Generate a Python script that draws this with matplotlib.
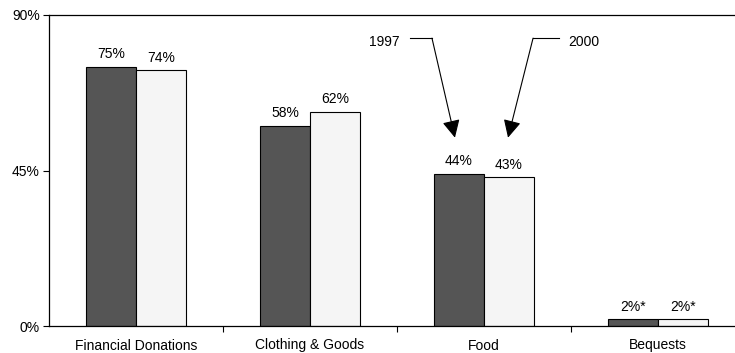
import matplotlib.pyplot as plt
import numpy as np

plt.rcParams['font.family'] = ['Liberation Sans', 'DejaVu Sans']

categories = ['Financial Donations', 'Clothing & Goods', 'Food', 'Bequests']
vals_1997 = [75, 58, 44, 2]
vals_2000 = [74, 62, 43, 2]
labels_1997 = ['75%', '58%', '44%', '2%*']
labels_2000 = ['74%', '62%', '43%', '2%*']

FS = 10

fig = plt.figure(figsize=(7.35, 3.53), dpi=100)
# right side of the plot box runs off the canvas, as in the original
ax = fig.add_axes([49 / 735, 27 / 353, 696 / 735, 311 / 353])

x = np.arange(len(categories))
w = 0.287

b1 = ax.bar(x - w / 2, vals_1997, w, color='#555555', edgecolor='black', linewidth=0.8)
b2 = ax.bar(x + w / 2, vals_2000, w, color='#f5f5f5', edgecolor='black', linewidth=0.8)

for rect, lab in zip(b1, labels_1997):
    ax.annotate(lab, (rect.get_x() + rect.get_width() / 2, rect.get_height()),
                xytext=(0, 4), textcoords='offset points', ha='center', va='bottom', fontsize=FS)
for rect, lab in zip(b2, labels_2000):
    ax.annotate(lab, (rect.get_x() + rect.get_width() / 2, rect.get_height()),
                xytext=(0, 4), textcoords='offset points', ha='center', va='bottom', fontsize=FS)

ax.set_xlim(-0.5, 3.5)
ax.set_ylim(0, 90)
ax.set_yticks([0, 45, 90])
ax.set_yticklabels(['0%', '45%', '90%'], fontsize=FS)

# boundaries get tick marks, category names sit in between
ax.set_xticks([0.5, 1.5, 2.5])
ax.set_xticklabels([])
ax.set_xticks(x, minor=True)
ax.set_xticklabels(categories, minor=True, fontsize=FS)
ax.tick_params(axis='x', which='major', direction='out', length=4.5, width=0.8)
ax.tick_params(axis='x', which='minor', length=0, pad=9)
ax.tick_params(axis='y', direction='out', length=4.5, width=0.8, pad=2)

for s in ['left', 'top', 'bottom', 'right']:
    ax.spines[s].set_linewidth(0.9)

arrow = dict(arrowstyle='-|>,head_length=0.6,head_width=0.3', color='black', lw=0.8,
             mutation_scale=18, shrinkA=0, shrinkB=0)

# year callouts
ax.text(1.425, 82.2, '1997', ha='center', va='center', fontsize=FS)
ax.plot([1.575, 1.701], [83.3, 83.3], color='black', lw=0.8)
ax.annotate('', xy=(1.833, 54.5), xytext=(1.701, 83.3), arrowprops=arrow)

ax.text(2.575, 82.2, '2000', ha='center', va='center', fontsize=FS)
ax.plot([2.431, 2.282], [83.3, 83.3], color='black', lw=0.8)
ax.annotate('', xy=(2.138, 54.5), xytext=(2.282, 83.3), arrowprops=arrow)

fig.savefig('out.png', dpi=100)
